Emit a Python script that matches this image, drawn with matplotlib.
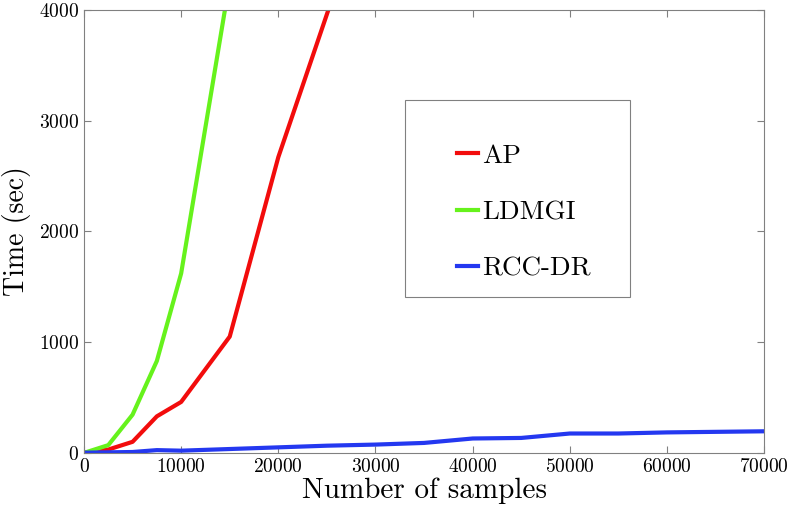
import matplotlib
matplotlib.use("Agg")
import matplotlib.pyplot as plt
from matplotlib.patches import Rectangle

# data
x_ap = [0, 2500, 5000, 7500, 10000, 15000, 20000, 30000]
t_ap = [0, 30, 100, 330, 460, 1050, 2670, 5250]

x_ldmgi = [0, 2500, 5000, 7500, 10000, 15000]
t_ldmgi = [0, 70, 345, 830, 1620, 4260]

x_rcc = [0, 2500, 5000, 7500, 10000, 15000, 20000, 25000, 30000, 35000,
         40000, 45000, 50000, 55000, 60000, 65000, 70000]
t_rcc = [2, 5, 8, 25, 20, 35, 50, 65, 75, 90,
         130, 135, 175, 175, 185, 190, 195]

plt.rcParams['font.family'] = ['cmr10', 'DejaVu Serif']
plt.rcParams['mathtext.fontset'] = 'cm'
plt.rcParams['axes.formatter.use_mathtext'] = True

fig = plt.figure(figsize=(7.96, 5.17), dpi=100)
ax = fig.add_axes([0.1055, 0.124, 0.8545, 0.857])

ax.plot(x_ap, t_ap, color='#f20c0c', lw=3, label='AP')
ax.plot(x_ldmgi, t_ldmgi, color='#66f21c', lw=3, label='LDMGI')
ax.plot(x_rcc, t_rcc, color='#2438f0', lw=3, label='RCC-DR')

ax.set_xlim(0, 70000)
ax.set_ylim(0, 4000)
ax.set_xticks(range(0, 70001, 10000))
ax.set_yticks(range(0, 4001, 1000))
ax.tick_params(direction='in', top=True, right=True, labelsize=14,
               color='#808080', length=5)
for s in ax.spines.values():
    s.set_color('#808080')

ax.set_xlabel('Number of samples', fontsize=21, labelpad=1)
ax.set_ylabel('Time (sec)', fontsize=20, labelpad=6)

# legend frame drawn by hand, the original has a lot of space round the entries
box = Rectangle((0.472, 0.352), 0.331, 0.445, transform=ax.transAxes,
                facecolor='white', edgecolor='#808080', lw=0.8, zorder=3)
ax.add_patch(box)
leg = ax.legend(loc='upper left', bbox_to_anchor=(0.548, 0.698),
                fontsize=19.5, handlelength=0.8, handletextpad=0.15,
                labelspacing=1.2, borderpad=0, borderaxespad=0,
                frameon=False)
leg.set_zorder(4)

plt.savefig('out.png', dpi=100)
